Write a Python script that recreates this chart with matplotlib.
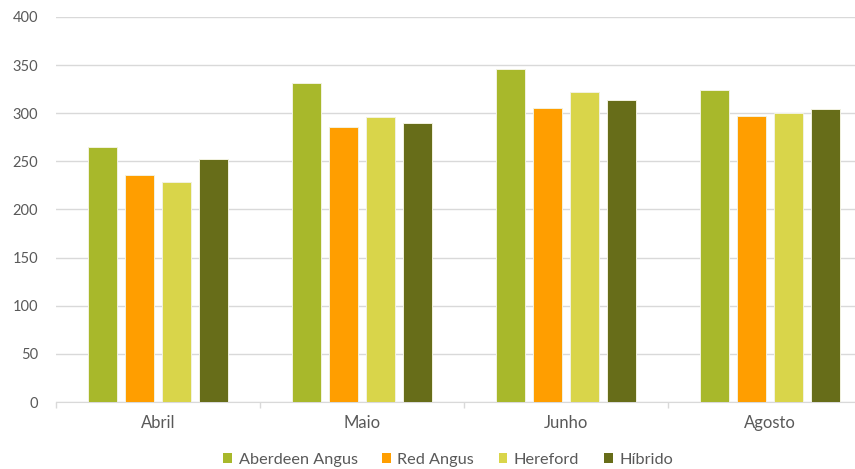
import numpy as np
from matplotlib import pyplot as plt
from matplotlib.patches import Patch

plt.rcParams['font.family'] = ['Lato', 'DejaVu Sans']

months = ['Abril', 'Maio', 'Junho', 'Agosto']
breeds = ['Aberdeen Angus', 'Red Angus', 'Hereford', 'Híbrido']
aberdeen = [265, 331, 346, 324]
red_angus = [236, 286, 305, 297]
hereford = [229, 296, 322, 300]
hibrido = [252, 290, 314, 304]
colors = ['#A8B82B', '#FF9E00', '#D9D54A', '#676D19']

series = [aberdeen, red_angus, hereford, hibrido]

fig = plt.figure(figsize=(8.55, 4.69), dpi=100)
# plot area is cut off on the right in the reference
ax = fig.add_axes([56 / 855, 67 / 469, 816 / 855, 385 / 469])

x = np.arange(len(months))
width = 0.142
step = 0.181
for i, (vals, c) in enumerate(zip(series, colors)):
    offs = (i - 1.5) * step
    ax.bar(x + offs, vals, width=width, color=c, edgecolor='#F2F2E0',
           linewidth=0.7, label=breeds[i], zorder=3)

ax.set_ylim(0, 400)
ax.set_yticks(range(0, 401, 50))
ax.set_xlim(-0.5, 3.5)
ax.grid(axis='y', color='#D9D9D9', linewidth=1, zorder=0)

# category boundaries as major ticks, labels on minor ticks
ax.set_xticks(np.arange(-0.5, 4, 1))
ax.set_xticklabels([])
ax.set_xticks(x, minor=True)
ax.set_xticklabels(months, minor=True)
ax.tick_params(axis='x', which='major', length=4.5, color='#D9D9D9', width=1)
ax.tick_params(axis='x', which='minor', length=0, pad=9, labelsize=12,
               labelcolor='#595959')
ax.tick_params(axis='y', length=0, pad=13, labelsize=10.5, labelcolor='#595959')

for s in ['top', 'right', 'left']:
    ax.spines[s].set_visible(False)
ax.spines['bottom'].set_color('#D9D9D9')

handles = [Patch(facecolor=c, label=b) for b, c in zip(breeds, colors)]
fig.legend(handles=handles, loc='center', bbox_to_anchor=(448 / 855, 1 - 460 / 469),
           ncol=4, frameon=False, fontsize=11.7, labelcolor='#595959',
           handlelength=0.55, handleheight=0.55, handletextpad=0.4,
           columnspacing=1.5)

plt.savefig('out.png', dpi=100)
